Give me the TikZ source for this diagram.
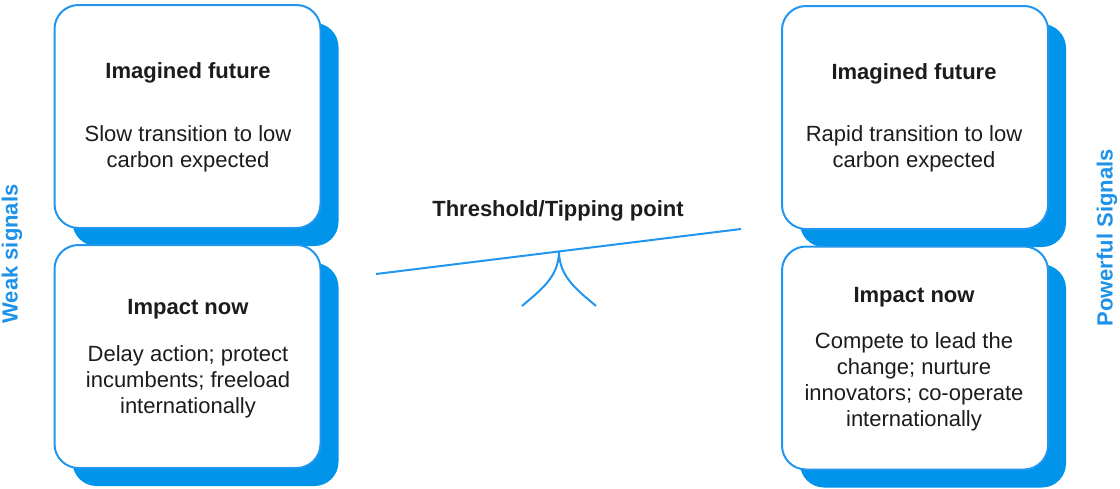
\documentclass[tikz,border=0pt]{standalone}
\usepackage{fontspec}
\setmainfont{Liberation Sans}
\usetikzlibrary{shadows}
\definecolor{borderblue}{HTML}{2196F0}
\definecolor{shadowblue}{HTML}{0094EA}
\definecolor{labelblue}{HTML}{1E92E8}
\definecolor{txt}{HTML}{1C1C1C}
\tikzset{
  card/.style={draw=borderblue, line width=2pt, fill=white, rounded corners=24pt,
    minimum width=266pt, minimum height=223pt, inner sep=0pt,
    drop shadow={shadow xshift=18pt, shadow yshift=-18pt, fill=shadowblue, opacity=1}},
  title/.style={anchor=base, inner sep=0pt, text=txt, font=\fontsize{22}{26}\selectfont\bfseries},
  body/.style={anchor=base, inner sep=0pt, text=txt, align=center, font=\fontsize{22}{26}\selectfont},
  side/.style={inner sep=0pt, rotate=90, text=labelblue, font=\fontsize{22}{26}\selectfont\bfseries},
  beam/.style={draw=borderblue, line width=2pt}
}
\begin{document}
\begin{tikzpicture}[x=1pt,y=-1pt]
\useasboundingbox (0,0) rectangle (1120,488);
% left column
\node[card] (lt) at (187.5,116.5) {};
\node[card] (lb) at (187.5,356.5) {};
% right column
\node[card] (rt) at (915,117.5) {};
\node[card] (rb) at (915,358) {};
% texts (body nodes are placed at the baseline of their last line)
\node[title] (lt-t) at (188,78) {Imagined future};
\node[body] (lt-b) at (188,167) {Slow transition to low\\carbon expected};
\node[title] (lb-t) at (188,314) {Impact now};
\node[body] (lb-b) at (188,413) {Delay action; protect\\incumbents; freeload\\internationally};
\node[title] (rt-t) at (914,79) {Imagined future};
\node[body] (rt-b) at (914,167) {Rapid transition to low\\carbon expected};
\node[title] (rb-t) at (914,302) {Impact now};
\node[body] (rb-b) at (914,426) {Compete to lead the\\change; nurture\\innovators; co-operate\\internationally};
% side labels
\node[side] (weak) at (12,254) {Weak signals};
\node[side] (power) at (1107,238) {Powerful Signals};
% seesaw
\node[title] (thr) at (558,216) {Threshold/Tipping point};
\coordinate (bl) at (376,274);
\coordinate (br) at (741,229);
\coordinate (apex) at (559,251.5);
\coordinate (fl) at (522,306);
\coordinate (fr) at (596,306);
\draw[beam] (bl) -- (br);
\draw[beam] (fl) .. controls (538,292) and (559,278) .. (apex)
            .. controls (559,278) and (580,292) .. (fr);
\end{tikzpicture}
\end{document}
